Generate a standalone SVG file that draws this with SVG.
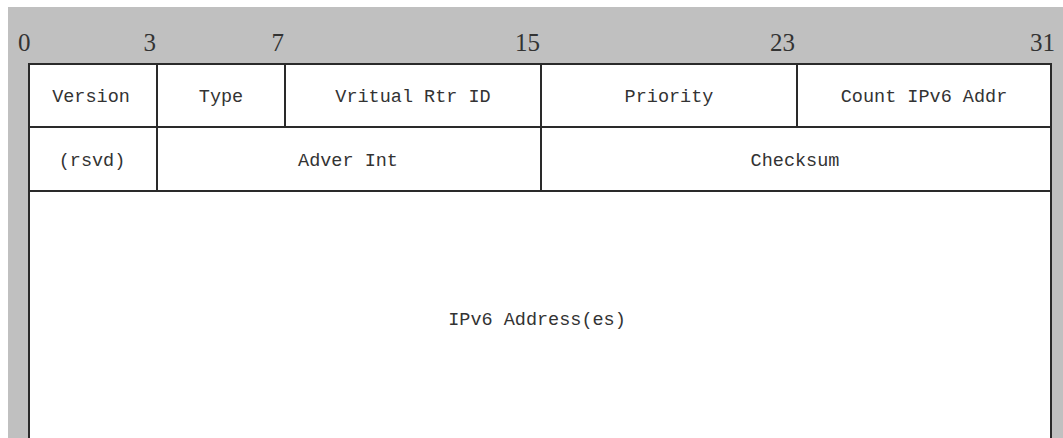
<svg xmlns="http://www.w3.org/2000/svg" width="1063" height="438" viewBox="0 0 1063 438">
<style>
.cell{fill:#ffffff;stroke:#2a2a2a;stroke-width:2}
.lbl{font-family:"Liberation Mono",monospace;font-size:18.5px;fill:#333;text-anchor:middle}
.num{font-family:"Liberation Serif",serif;font-size:25px;fill:#333;text-anchor:end}
</style>
<rect x="0" y="0" width="1063" height="438" fill="#ffffff"/>
<rect x="8" y="7" width="1055" height="431" fill="#c0c0c0"/>
<g id="bit-numbers">
<text class="num" x="18" y="51" style="text-anchor:start">0</text>
<text class="num" x="156" y="51">3</text>
<text class="num" x="284" y="51">7</text>
<text class="num" x="540" y="51">15</text>
<text class="num" x="795" y="51">23</text>
<text class="num" x="1055" y="51">31</text>
</g>
<g id="version"><rect class="cell" x="29" y="64" width="128" height="63"/><text class="lbl" x="91" y="102">Version</text></g>
<g id="type"><rect class="cell" x="157" y="64" width="128" height="63"/><text class="lbl" x="221" y="102">Type</text></g>
<g id="vrid"><rect class="cell" x="285" y="64" width="256" height="63"/><text class="lbl" x="413" y="102">Vritual Rtr ID</text></g>
<g id="priority"><rect class="cell" x="541" y="64" width="256" height="63"/><text class="lbl" x="669" y="102">Priority</text></g>
<g id="count"><rect class="cell" x="797" y="64" width="254" height="63"/><text class="lbl" x="924" y="102">Count IPv6 Addr</text></g>
<g id="rsvd"><rect class="cell" x="29" y="127" width="128" height="64"/><text class="lbl" x="92" y="166">(rsvd)</text></g>
<g id="adver"><rect class="cell" x="157" y="127" width="384" height="64"/><text class="lbl" x="348" y="166">Adver Int</text></g>
<g id="checksum"><rect class="cell" x="541" y="127" width="510" height="64"/><text class="lbl" x="795" y="166">Checksum</text></g>
<g id="addresses"><rect class="cell" x="29" y="191" width="1022" height="260"/><text class="lbl" x="537" y="325">IPv6 Address(es)</text></g>
<g id="connectors"></g>
</svg>
